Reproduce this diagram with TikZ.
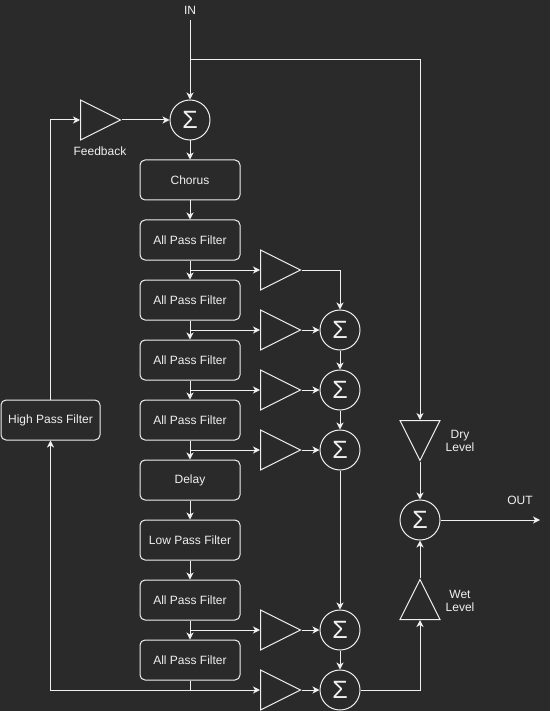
\documentclass[tikz,border=0pt]{standalone}
\usepackage{fontspec}
\setmainfont{Liberation Sans}
\usetikzlibrary{arrows.meta,shapes.geometric}
\definecolor{bg}{HTML}{2A2A2A}
\definecolor{fg}{HTML}{F0F0F0}
\tikzset{
  ln/.style={draw=fg, line width=1pt},
  arr/.style={ln, -{Stealth[length=7pt,width=7pt,inset=2pt]}},
  box/.style={draw=fg, line width=1pt, rounded corners=5pt, minimum width=100pt, minimum height=40pt,
    inner sep=0pt, text=fg, font=\fontsize{12}{14}\selectfont, fill=bg},
  sum/.style={draw=fg, line width=1pt, circle, minimum size=40pt, inner sep=0pt, text=fg,
    font=\fontsize{25}{25}\selectfont},
  gain/.style={draw=fg, line width=1pt, isosceles triangle, isosceles triangle stretches,
    minimum width=40pt, minimum height=40pt, inner sep=0pt},
  lbl/.style={text=fg, font=\fontsize{12}{13}\selectfont, align=center, inner sep=0pt},
}
\begin{document}
\begin{tikzpicture}[x=1pt,y=-1pt]
\path[use as bounding box, fill=bg] (0,0) rectangle (550,711);

% main column
\node[sum] (s0) at (190,120) {Σ};
\node[box] (chorus) at (190,180) {Chorus};
\node[box] (apf1) at (190,240) {All Pass Filter};
\node[box] (apf2) at (190,300) {All Pass Filter};
\node[box] (apf3) at (190,360) {All Pass Filter};
\node[box] (apf4) at (190,420) {All Pass Filter};
\node[box] (delay) at (190,480) {Delay};
\node[box] (lpf) at (190,540) {Low Pass Filter};
\node[box] (apf5) at (190,600) {All Pass Filter};
\node[box] (apf6) at (190,660) {All Pass Filter};
\node[box, minimum width=99pt] (hpf) at (50.5,420) {High Pass Filter};

% feedback gain
\node[gain, anchor=lower side] (fb) at (80,120) {};
\node[lbl] (fbl) at (100,151) {Feedback};

% tap gains
\node[gain, anchor=lower side] (g1) at (260,270) {};
\node[gain, anchor=lower side] (g2) at (260,330) {};
\node[gain, anchor=lower side] (g3) at (260,390) {};
\node[gain, anchor=lower side] (g4) at (260,450) {};
\node[gain, anchor=lower side] (g5) at (260,630) {};
\node[gain, anchor=lower side] (g6) at (260,690) {};

% sums
\node[sum] (s2) at (340,330) {Σ};
\node[sum] (s3) at (340,390) {Σ};
\node[sum] (s4) at (340,450) {Σ};
\node[sum] (s5) at (340,630) {Σ};
\node[sum] (s6) at (340,690) {Σ};

% output section
\node[gain, shape border rotate=270, anchor=lower side] (dry) at (420,420) {};
\node[gain, shape border rotate=90, anchor=lower side] (wet) at (420,620) {};
\node[sum] (sout) at (420,520) {Σ};
\node[lbl] (dryl) at (460,440.5) {Dry\\Level};
\node[lbl] (wetl) at (460,600.5) {Wet\\Level};
\node[lbl] (in) at (190,10) {IN};
\node[lbl] (out) at (520,500) {OUT};

\coordinate (inTop) at (190,20);
\coordinate (br) at (190,60);
\coordinate (t1) at (190,270);
\coordinate (t2) at (190,330);
\coordinate (t3) at (190,390);
\coordinate (t4) at (190,450);
\coordinate (t5) at (190,630);
\coordinate (t6) at (190,690);
\coordinate (outEnd) at (540,520);

% connectors
\draw[arr] (inTop) -- (s0);
\draw[arr] (br) -| (dry.lower side);
\draw[arr] (hpf.north) |- (fb.lower side);
\draw[arr] (fb.apex) -- (s0);
\draw[arr] (s0) -- (chorus);
\draw[arr] (chorus) -- (apf1);
\draw[arr] (apf1) -- (apf2);
\draw[arr] (apf2) -- (apf3);
\draw[arr] (apf3) -- (apf4);
\draw[arr] (apf4) -- (delay);
\draw[arr] (delay) -- (lpf);
\draw[arr] (lpf) -- (apf5);
\draw[arr] (apf5) -- (apf6);
\draw[ln] (apf6.south) -- (t6);
\draw[arr] (t6) -| (hpf.south);

\draw[arr] (t1) -- (g1.lower side);
\draw[arr] (t2) -- (g2.lower side);
\draw[arr] (t3) -- (g3.lower side);
\draw[arr] (t4) -- (g4.lower side);
\draw[arr] (t5) -- (g5.lower side);
\draw[arr] (t6) -- (g6.lower side);

\draw[arr] (g1.apex) -| (s2.north);
\draw[arr] (g2.apex) -- (s2);
\draw[arr] (g3.apex) -- (s3);
\draw[arr] (g4.apex) -- (s4);
\draw[arr] (g5.apex) -- (s5);
\draw[arr] (g6.apex) -- (s6);
\draw[arr] (s2) -- (s3);
\draw[arr] (s3) -- (s4);
\draw[arr] (s4) -- (s5);
\draw[arr] (s5) -- (s6);
\draw[arr] (s6.east) -| (wet.lower side);

\draw[arr] (dry.apex) -- (sout);
\draw[arr] (wet.apex) -- (sout);
\draw[arr] (sout) -- (outEnd);
\end{tikzpicture}
\end{document}
